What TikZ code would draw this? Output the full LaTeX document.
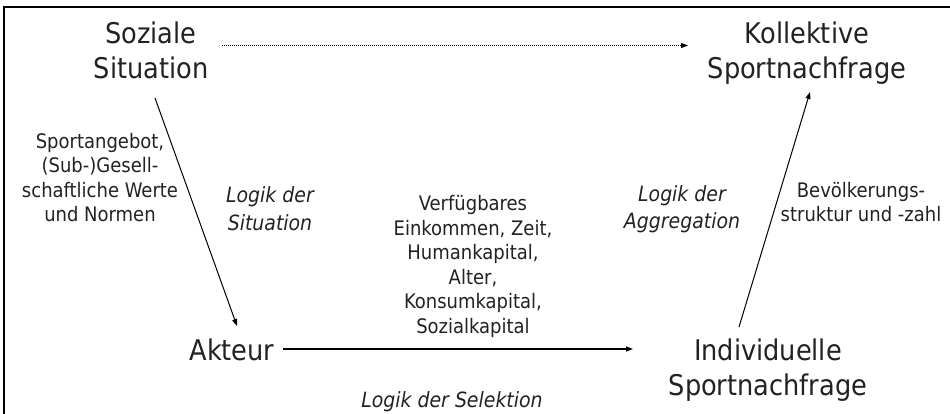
\documentclass[tikz,border=0pt]{standalone}
\usepackage{fontspec}
\setmainfont{DejaVu Sans Condensed}[ItalicFont={DejaVu Sans Condensed Oblique}]
\usetikzlibrary{arrows.meta}
\definecolor{ink}{HTML}{222222}
% multi-line nodes: the base anchor sits on the last line's baseline
\tikzset{
  big/.style={font=\fontsize{28.5}{35}\selectfont, text=ink, align=center, inner sep=0pt, anchor=base},
  small/.style={font=\fontsize{20}{24.5}\selectfont, text=ink, align=center, inner sep=0pt, anchor=base},
  logic/.style={font=\fontsize{21}{28}\selectfont\itshape, text=ink, align=center, inner sep=0pt, anchor=base},
  link/.style={line width=1pt, -{Triangle[length=7pt,width=5pt]}},
  frame/.style={line width=2pt, black}
}
\begin{document}
\begin{tikzpicture}[x=1pt,y=-1pt]
\useasboundingbox (0,0) rectangle (950,414);
% frame (only the left and top edges lie within the page)
\draw[frame] (4,420) -- (4,7) -- (960,7);

% main states
\node[big] (soz) at (151,79) {Soziale\\Situation};
\node[big] (koll) at (807,79) {Kollektive\\Sportnachfrage};
\node[big] (akt) at (232,360) {Akteur};
\node[big] (ind) at (768,395) {Individuelle\\Sportnachfrage};

% explanatory notes
\node[small] (angebot) at (100,222) {Sportangebot,\\(Sub-)Gesell-\\schaftliche Werte\\und Normen};
\node[small] (ressourcen) at (473,333) {Verfügbares\\Einkommen, Zeit,\\Humankapital,\\Alter,\\Konsumkapital,\\Sozialkapital};
\node[small] (bevoelk) at (861,222) {Bevölkerungs-\\struktur und -zahl};

% logics
\node[logic] (lsit) at (270,230) {Logik der\\Situation};
\node[logic] (lagg) at (682,229) {Logik der\\Aggregation};
\node[logic] (lsel) at (452,407) {Logik der Selektion};

% connector end points
\coordinate (sozS) at (155,98);
\coordinate (aktN) at (237,326);
\coordinate (aktE) at (283,349);
\coordinate (indW) at (633,349);
\coordinate (indN) at (739,327);
\coordinate (kollS) at (810,92);
\coordinate (sozE) at (222,45.5);
\coordinate (kollW) at (688,45.5);

\draw[link] (sozS) -- (aktN);
\draw[link, line width=1.3pt] (aktE) -- (indW);
\draw[link] (indN) -- (kollS);
\draw[link, line width=1pt, densely dotted] (sozE) -- (kollW);
\end{tikzpicture}
\end{document}
